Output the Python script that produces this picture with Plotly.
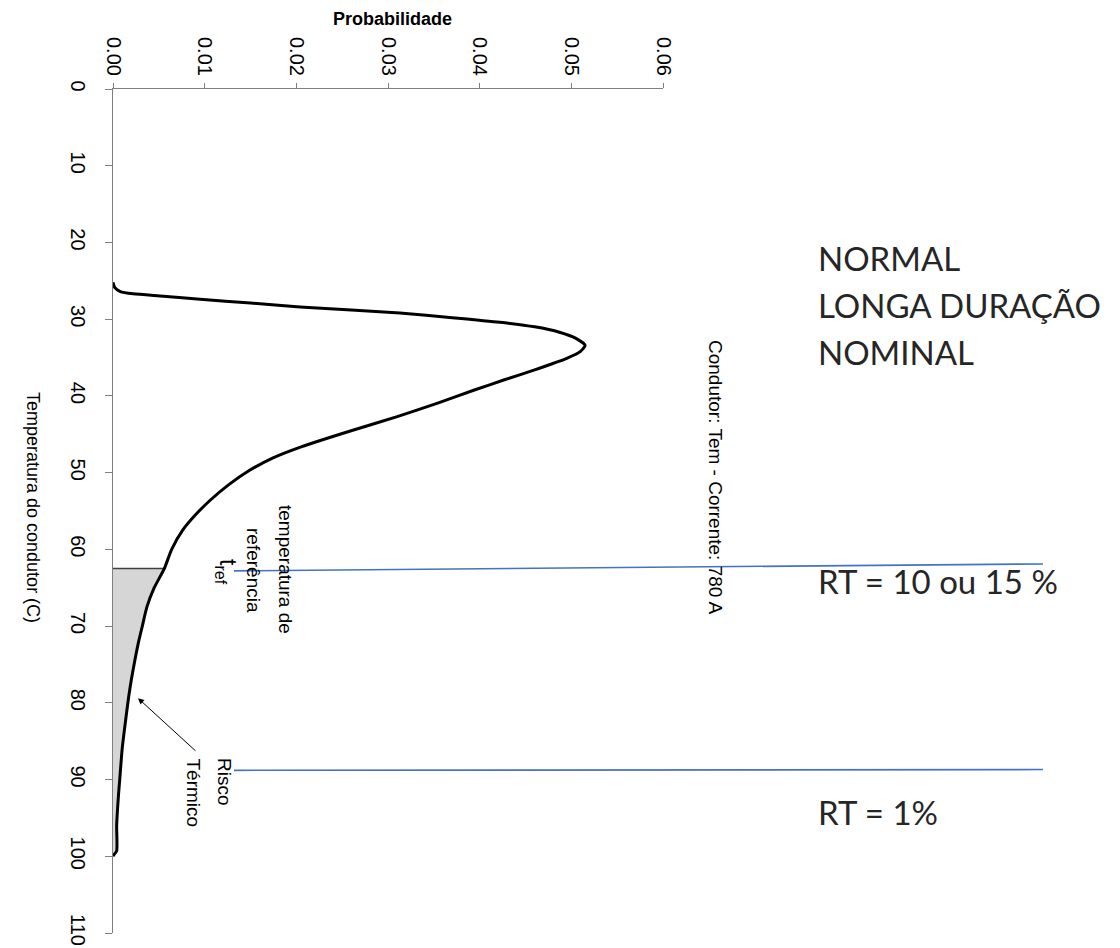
import plotly.graph_objects as go

# ---- data ----
temperatura = [25.2, 25.9, 26.4, 26.7, 27.0, 27.4, 27.9, 28.4, 28.8, 29.2, 29.8, 30.4, 31.0, 31.7,
               32.5, 33.4, 34.2, 35.1, 36.6, 37.9, 39.2, 40.9, 42.7, 44.6, 46.6, 48.1, 49.7, 51.6,
               53.6, 55.5, 57.5, 60.0, 62.5, 65.0, 67.5, 70.0, 72.0, 75.0, 77.0, 79.3, 83.0, 86.0,
               89.0, 92.0, 96.0, 99.3, 99.8, 100.0]
probabilidade = [0.0, 0.0002, 0.0008, 0.0022, 0.0055, 0.0095, 0.0150, 0.0204, 0.0260, 0.0313, 0.0370,
                 0.0422, 0.0460, 0.0487, 0.0505, 0.0515, 0.0510, 0.0495, 0.0460, 0.0427, 0.0395,
                 0.0355, 0.0310, 0.0258, 0.0206, 0.0174, 0.0149, 0.0126, 0.0106, 0.0090, 0.0076,
                 0.0064, 0.0056, 0.0045, 0.0037, 0.0032, 0.0028, 0.0023, 0.0020, 0.0017, 0.0013,
                 0.0010, 0.0008, 0.0006, 0.0004, 0.0004, 0.0001, 0.0]
t_ref = 62.5
rt_lines = [(62.8, 61.9), (88.8, 88.7)]
x_ticks = [0.00, 0.01, 0.02, 0.03, 0.04, 0.05, 0.06]
y_ticks = [0, 10, 20, 30, 40, 50, 60, 70, 80, 90, 100, 110]
right_labels = ["NORMAL", "LONGA DURAÇÃO", "NOMINAL"]
rt_labels = ["RT = 10 ou 15 %", "RT = 1%"]

# ---- layout geometry (page body adds an 8 px offset) ----
OFF = 8
FIG_W, FIG_H = 1120 - OFF, 948 - OFF
L, T, W, H = 113 - OFF, 89 - OFF, 550, 844
def px(x):
    return (x - OFF - L) / W
def py(y):
    return (T + H - (y - OFF)) / H

FONT = "Liberation Sans"

fig = go.Figure()

# shaded thermal-risk area
idx = [i for i, t in enumerate(temperatura) if t >= t_ref]
fig.add_trace(go.Scatter(
    x=[probabilidade[i] for i in idx], y=[temperatura[i] for i in idx],
    mode="lines", line=dict(width=0, shape="spline", smoothing=0.6), fill="tozerox",
    fillcolor="#D6D6D6", hoverinfo="skip", showlegend=False))

# t_ref edge of shaded area
p_ref = probabilidade[temperatura.index(t_ref)]
fig.add_trace(go.Scatter(x=[0, p_ref], y=[t_ref, t_ref], mode="lines",
                         line=dict(color="#404040", width=1.6), showlegend=False))

# distribution curve
fig.add_trace(go.Scatter(x=probabilidade, y=temperatura, mode="lines",
                         line=dict(color="#000000", width=3, shape="spline", smoothing=0.6),
                         showlegend=False))

shapes = []
for y0, y1 in rt_lines:
    shapes.append(dict(type="line", xref="paper", yref="y",
                       x0=px(234), x1=px(1043), y0=y0, y1=y1,
                       line=dict(color="#4472C4", width=1.6)))

def label(text, x, y, size, angle=0, xa="center", ya="middle", family=FONT, color="#000"):
    return dict(text=text, xref="paper", yref="paper", x=px(x), y=py(y),
                xanchor=xa, yanchor=ya, showarrow=False, textangle=angle, borderpad=0,
                font=dict(family=family, size=size, color=color))

ann = []
# axis titles
ann.append(label("<b>Probabilidade</b>", 392, 19, 18))
ann.append(label("Temperatura do condutor (C)", 33, 507, 18, angle=90))
# in-plot labels
ann.append(label("temperatura de", 286, 569, 19, angle=90))
ann.append(label("referência", 254, 570, 19, angle=90))
ann.append(label("t<sub>ref</sub>", 227, 572, 23, angle=90))
ann.append(label("Risco", 225, 757, 19, angle=90, ya="top"))
ann.append(label("Térmico", 193, 757, 19, angle=90, ya="top"))
ann.append(dict(text="", x=0.00273, y=79.4, xref="x", yref="y",
                showarrow=True, ax=59, ay=54, arrowhead=2, arrowsize=1.2,
                arrowwidth=1, arrowcolor="#000"))
ann.append(label("Condutor: Tem - Corrente: 780 A", 716, 477, 19, angle=90))
# right-hand labels
for lab, yc in zip(right_labels, [258, 305, 352]):
    ann.append(label(lab, 817, yc, 33, xa="left", family="Lato", color="#262626"))
for lab, yc in zip(rt_labels, [581, 812]):
    ann.append(label(lab, 817, yc, 33, xa="left", family="Lato", color="#262626"))

fig.update_layout(
    width=FIG_W, height=FIG_H,
    margin=dict(l=L, r=FIG_W - L - W, t=T, b=FIG_H - T - H, autoexpand=False),
    paper_bgcolor="white", plot_bgcolor="white",
    shapes=shapes, annotations=ann, showlegend=False,
    xaxis=dict(side="top", range=[0, 0.06], tickvals=x_ticks, tickformat=".2f",
               tickangle=90, showline=True, linecolor="#7F7F7F", linewidth=1.2,
               ticks="outside", ticklen=5, tickcolor="#7F7F7F", showgrid=False,
               zeroline=False, ticklabelstandoff=0, automargin=False,
               tickfont=dict(family=FONT, size=20, color="#000")),
    yaxis=dict(range=[110, 0], tickvals=y_ticks, tickangle=90,
               showline=True, linecolor="#7F7F7F", linewidth=1.2,
               ticks="outside", ticklen=7, tickcolor="#7F7F7F", showgrid=False,
               zeroline=False, ticklabelstandoff=10, automargin=False,
               tickfont=dict(family=FONT, size=20, color="#000")),
)

fig.write_html("out.html")
